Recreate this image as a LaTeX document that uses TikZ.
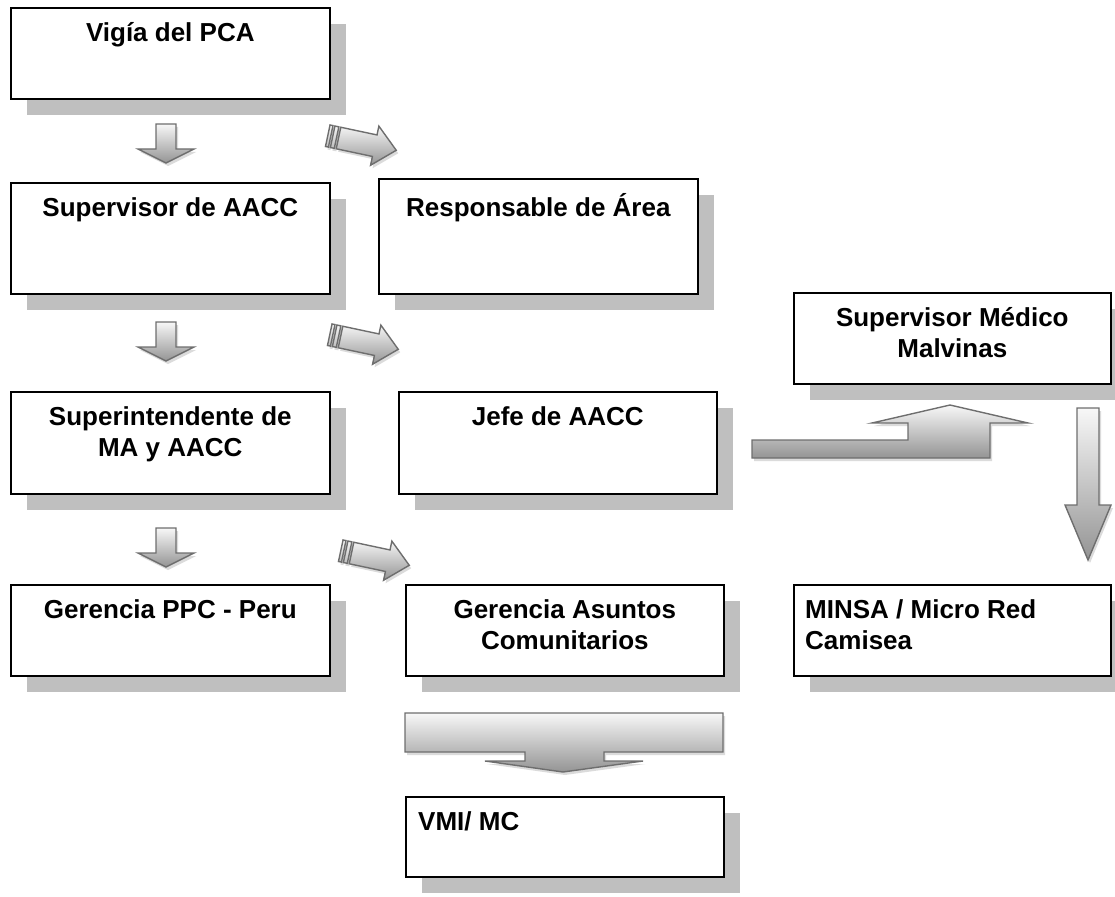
\documentclass[tikz,border=0pt]{standalone}
\usepackage{fontspec}
\setmainfont{Liberation Sans}
\usetikzlibrary{positioning,shadows}

\tikzset{
  orgbox/.style={draw, line width=1.6pt, fill=white, anchor=north west, inner sep=0pt,
    general shadow={fill=black!25, shadow xshift=16pt, shadow yshift=-16pt}},
  boxtext/.style={font=\fontsize{26}{31}\selectfont\bfseries, inner sep=0pt, align=center},
  blockarrow/.style={draw=black!57, line width=1.4pt, line join=miter,
    top color=black!3, bottom color=black!42,
    general shadow={fill=black!14, shadow xshift=2pt, shadow yshift=-3pt}},
}

\begin{document}
\begin{tikzpicture}[x=1pt,y=-1pt]
  \useasboundingbox (0,0) rectangle (1115,896);

  % Boxes
  \node[orgbox, minimum width=319pt, minimum height=91pt]  (vigia)    at (10,7)    {};
  \node[orgbox, minimum width=319pt, minimum height=111pt] (supaacc)  at (10,182)  {};
  \node[orgbox, minimum width=319pt, minimum height=115pt] (resparea) at (378,178) {};
  \node[orgbox, minimum width=317pt, minimum height=91pt]  (supmed)   at (793,292) {};
  \node[orgbox, minimum width=319pt, minimum height=102pt] (superint) at (10,391)  {};
  \node[orgbox, minimum width=318pt, minimum height=102pt] (jefe)     at (398,391) {};
  \node[orgbox, minimum width=319pt, minimum height=91pt]  (gerppc)   at (10,584)  {};
  \node[orgbox, minimum width=318pt, minimum height=91pt]  (gerasc)   at (405,584) {};
  \node[orgbox, minimum width=317pt, minimum height=91pt]  (minsa)    at (793,584) {};
  \node[orgbox, minimum width=318pt, minimum height=80pt]  (vmi)      at (405,796) {};

  % Box texts
  \node[boxtext, below=15pt of vigia.north]    (vigia-t)    {Vigía del PCA};
  \node[boxtext, below=15pt of supaacc.north]  (supaacc-t)  {Supervisor de AACC};
  \node[boxtext, below=15pt of resparea.north] (resparea-t) {Responsable de Área};
  \node[boxtext, below=15pt of supmed.north]   (supmed-t)   {Supervisor Médico\\Malvinas};
  \node[boxtext, below=15pt of superint.north] (superint-t) {Superintendente de\\MA y AACC};
  \node[boxtext, below=15pt of jefe.north]     (jefe-t)     {Jefe de AACC};
  \node[boxtext, below=15pt of gerppc.north]   (gerppc-t)   {Gerencia PPC - Peru};
  \node[boxtext, below=15pt of gerasc.north]   (gerasc-t)   {Gerencia Asuntos\\Comunitarios};
  \node[boxtext, align=left, below right=15pt and 12pt of minsa.north west] (minsa-t) {MINSA / Micro Red\\Camisea};
  \node[boxtext, align=left, below right=15pt and 13pt of vmi.north west]   (vmi-t)   {VMI/ MC};

  % Small down arrows
  \foreach \ytop in {124,322,528}{
    \path[blockarrow, shift={(166,\ytop)}]
      (-10,0) -- (10,0) -- (10,25) -- (28,25) -- (0,39) -- (-28,25) -- (-10,25) -- cycle;
  }

  % Striped right arrows
  \foreach \xc/\yc in {362/143, 364/342, 375/558}{
    \path[blockarrow, shift={(\xc,\yc)}, rotate=-12]
      (-35,-11) rectangle (-32,11)
      (-30,-11) rectangle (-26,11)
      (-24,-11) -- (13,-11) -- (13,-20) -- (35,0) -- (13,20) -- (13,11) -- (-24,11) -- cycle;
  }

  % Bent arrow up to Supervisor Medico
  \path[blockarrow] (752,440) -- (908,440) -- (908,423) -- (872,423) -- (950,405)
    -- (1028,423) -- (990,423) -- (990,458) -- (752,458) -- cycle;

  % Down arrow to MINSA
  \path[blockarrow] (1077,408) -- (1099,408) -- (1099,505) -- (1111,505) -- (1088,560)
    -- (1065,505) -- (1077,505) -- cycle;

  % Wide down arrow to VMI
  \path[blockarrow] (405,713) -- (723,713) -- (723,752) -- (604,752) -- (604,761)
    -- (643,761) -- (563,772) -- (485,761) -- (525,761) -- (525,752) -- (405,752) -- cycle;

\end{tikzpicture}
\end{document}
